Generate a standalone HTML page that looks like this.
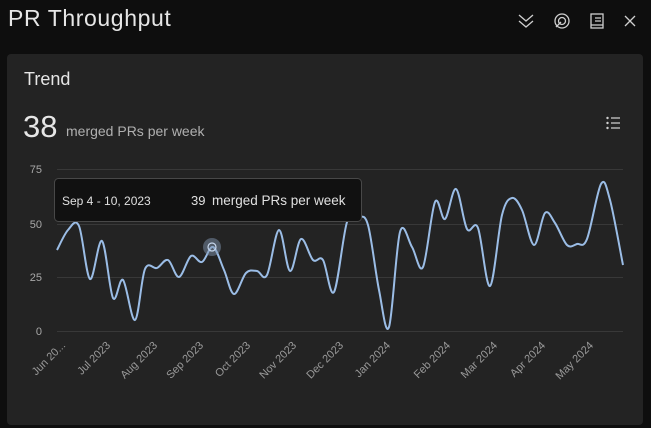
<!DOCTYPE html>
<html><head><style>
body{margin:0;width:651px;height:428px;background:#0e0e0e;overflow:hidden;font-family:"Liberation Sans",sans-serif;position:relative}
.t{position:absolute;color:#e6e6e6;white-space:nowrap}
</style></head><body>
<div class="t" style="left:8px;top:5px;font-size:23px;letter-spacing:0.6px">PR Throughput</div>
<svg style="position:absolute;left:0;top:0" width="651" height="54">
<g fill="none" stroke="#cfcfcf" stroke-width="1.3">
<path d="M519 15l7 6 7-6M519 21l7 6 7-6"/>
<circle cx="562" cy="21" r="7"/><circle cx="562" cy="21" r="3.5"/><path d="M556 27l5-5"/>
<rect x="591" y="14" width="12" height="14"/><path d="M595 18h6M595 21h6M591 25h12"/>
<path d="M625 16l10 10M635 16l-10 10"/>
</g></svg>
<div style="position:absolute;left:7px;top:54px;width:636px;height:371px;background:#232323;border-radius:4px"></div>
<div class="t" style="left:24px;top:69px;font-size:18px">Trend</div>
<div class="t" style="left:23px;top:109px;font-size:31px;font-weight:300">38</div>
<div class="t" style="left:66px;top:123px;font-size:14px;color:#b0b0b0">merged PRs per week</div>
<svg style="position:absolute;left:0;top:0" width="651" height="428">
<g fill="none" stroke="#cfcfcf" stroke-width="1.2"><path d="M611 118h9M611 123h9M611 128h9"/></g>
<g fill="#cfcfcf"><circle cx="607.5" cy="118" r="1.2"/><circle cx="607.5" cy="123" r="1.2"/><circle cx="607.5" cy="128" r="1.2"/></g>
<g stroke="#383838" stroke-width="1"><path d="M57 169.5H623M57 224.5H623M57 277.5H623M57 331.5H623"/></g>
<g fill="#a8a8a8" font-size="11" text-anchor="end"><text x="42" y="173">75</text><text x="42" y="228">50</text><text x="42" y="281">25</text><text x="42" y="335">0</text></g>
<g fill="#999" font-size="11" text-anchor="end">
<text transform="translate(66,346) rotate(-45)">Jun 20...</text>
<text transform="translate(111,346) rotate(-45)">Jul 2023</text>
<text transform="translate(158,346) rotate(-45)">Aug 2023</text>
<text transform="translate(204,346) rotate(-45)">Sep 2023</text>
<text transform="translate(251,346) rotate(-45)">Oct 2023</text>
<text transform="translate(297,346) rotate(-45)">Nov 2023</text>
<text transform="translate(344,346) rotate(-45)">Dec 2023</text>
<text transform="translate(391,346) rotate(-45)">Jan 2024</text>
<text transform="translate(451,346) rotate(-45)">Feb 2024</text>
<text transform="translate(498,346) rotate(-45)">Mar 2024</text>
<text transform="translate(546,346) rotate(-45)">Apr 2024</text>
<text transform="translate(594,346) rotate(-45)">May 2024</text>
</g>
<path id="ln" fill="none" stroke="#9bbde6" stroke-width="2" stroke-linejoin="round" d=""/>
<circle cx="212" cy="247" r="9" fill="#7f93ad" fill-opacity="0.5"/>
<circle cx="212" cy="247" r="4" fill="none" stroke="#c8d8ee" stroke-width="1.2"/>
<rect x="54.5" y="178.5" width="307" height="43" rx="4" fill="#111" stroke="#484848"/>
<text x="62" y="205" fill="#e0e0e0" font-size="12">Sep 4 - 10, 2023</text>
<text x="191" y="205" fill="#e0e0e0" font-size="13">39</text>
<text x="212" y="205" fill="#e0e0e0" font-size="13.5">merged PRs per week</text>
</svg>
<script>
var p=[[57,250],[68,230],[79,226],[90,279],[102,241],[113,298],[123,280],[135,320],[145,269],[157,268],[168,260],[179,277],[191,256],[202,262],[213,247],[224,270],[234,294],[246,273],[257,271],[267,275],[279,230],[290,271],[301,239],[313,260],[323,260],[334,292],[347,222],[358,217],[368,225],[379,290],[389,327],[400,232],[412,247],[423,267],[435,202],[445,219],[456,189],[467,229],[478,228],[490,286],[502,215],[512,198],[522,210],[534,245],[545,213],[555,223],[567,245],[577,244],[587,239],[601,184],[610,200],[623,265]];
var d="M"+p[0][0]+" "+p[0][1];
for(var i=0;i<p.length-1;i++){var a=p[Math.max(i-1,0)],b=p[i],c=p[i+1],e=p[Math.min(i+2,p.length-1)];
d+=" C"+(b[0]+(c[0]-a[0])/6).toFixed(1)+" "+(b[1]+(c[1]-a[1])/6).toFixed(1)+" "+(c[0]-(e[0]-b[0])/6).toFixed(1)+" "+(c[1]-(e[1]-b[1])/6).toFixed(1)+" "+c[0]+" "+c[1];}
document.getElementById("ln").setAttribute("d",d);
</script>
</body></html>
